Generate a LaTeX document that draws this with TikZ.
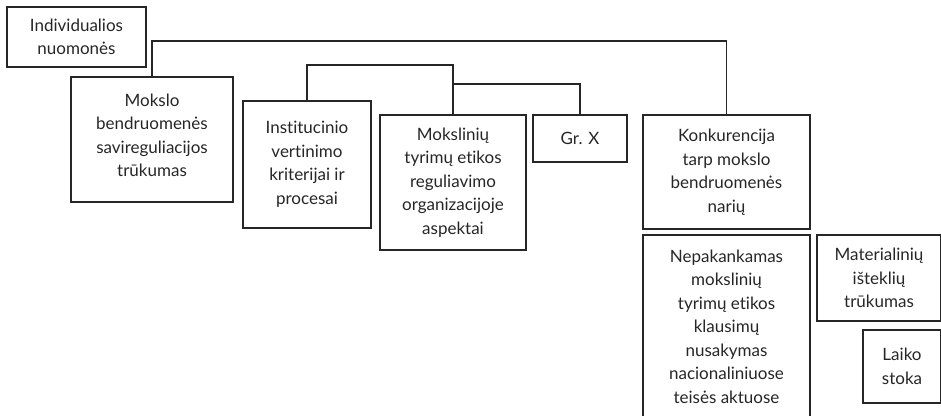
\documentclass[tikz,border=0pt]{standalone}
\usepackage{fontspec}
\setmainfont{Lato}[Ligatures={NoCommon}]
\begin{document}
\begin{tikzpicture}[x=1pt,y=-1pt,
  box/.style={draw=black!85, line width=1.1pt, align=center, inner sep=0pt,
    text=black!85, font=\fontsize{17}{23.5}\selectfont},
  link/.style={draw=black!85, line width=1.1pt}]
\useasboundingbox (0,0) rectangle (941,415);
\node[box, minimum width=139pt, minimum height=60pt] (A) at (76.5,37) {Individualios\\nuomonės};
\node[box, minimum width=162pt, minimum height=125pt] (B) at (152,139.5) {Mokslo\\bendruomenės\\savireguliacijos\\trūkumas\vspace{8pt}};
\node[box, minimum width=128pt, minimum height=127pt] (C) at (307,164.5) {Institucinio\\vertinimo\\kriterijai ir\\procesai};
\node[box, minimum width=146pt, minimum height=135pt] (D) at (453,182.5) {Mokslinių\\tyrimų etikos\\reguliavimo\\organizacijoje\\aspektai};
\node[box, minimum width=94pt, minimum height=47pt] (E) at (580,138.5) {Gr. X};
\node[box, minimum width=167pt, minimum height=114pt] (F) at (726.5,172) {Konkurencija\\tarp mokslo\\bendruomenės\\narių};
\node[box, minimum width=167pt, minimum height=183pt] (G) at (726.5,326.5) {Nepakankamas\\mokslinių\\tyrimų etikos\\klausimų\\nusakymas\\nacionaliniuose\\teisės aktuose};
\node[box, minimum width=124pt, minimum height=86pt] (H) at (879,278) {Materialinių\\išteklių\\trūkumas};
\node[box, minimum width=78pt, minimum height=73pt] (I) at (902,366.5) {Laiko\\stoka};
\coordinate (t1) at (0,41);
\coordinate (t2) at (0,65);
\coordinate (t3) at (0,84);
\draw[link] (B.north) -- (B.north |- t1) -| (F.north);
\draw[link] (C.north) -- (C.north |- t2) -| (D.north);
\draw[link] (D.north |- t3) -| (E.north);
\end{tikzpicture}
\end{document}
